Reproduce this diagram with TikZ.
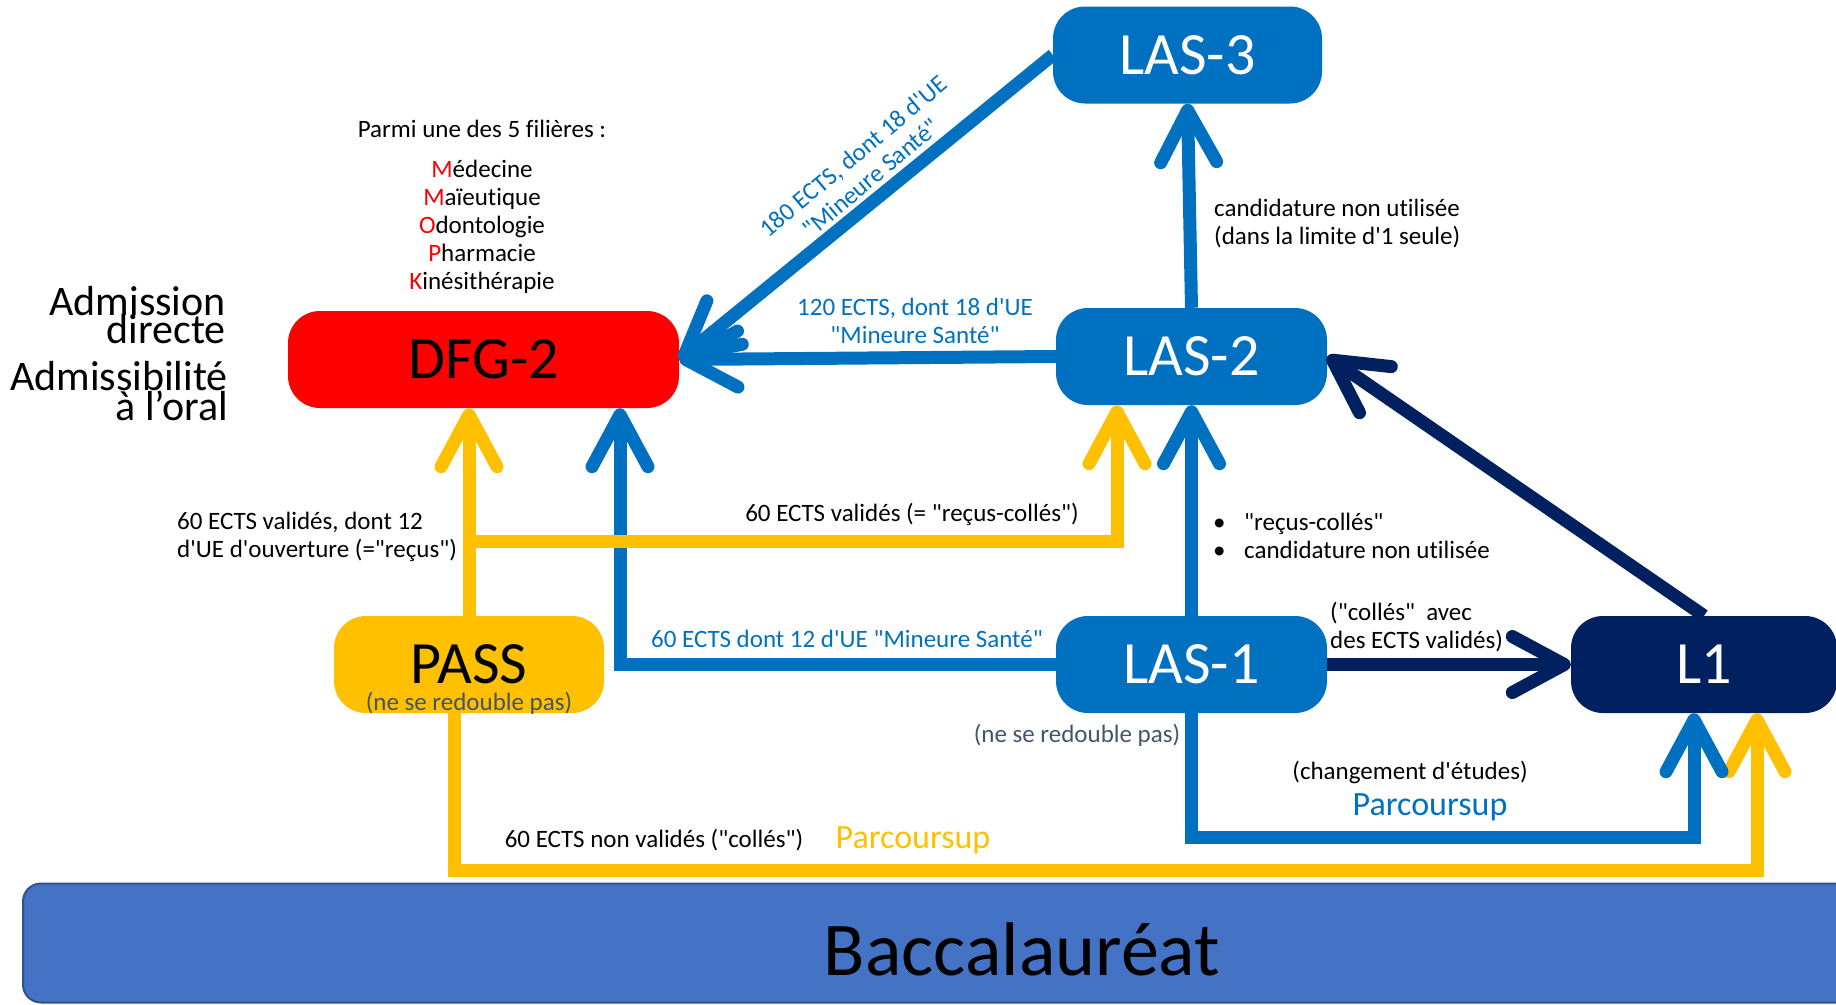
\documentclass[tikz,border=0pt]{standalone}
\usepackage{fontspec}
\setmainfont{Carlito}[Ligatures={TeXOff,NoCommon}]
\usetikzlibrary{arrows.meta}
\definecolor{lasblue}{HTML}{0070C0}
\definecolor{navy}{HTML}{002060}
\definecolor{passy}{HTML}{FFC000}
\definecolor{dfgred}{HTML}{FF0000}
\definecolor{bacfill}{HTML}{4472C4}
\definecolor{bacline}{HTML}{2F528F}
\definecolor{graytxt}{HTML}{44546A}
\begin{document}
\begin{tikzpicture}[x=1pt,y=-1pt,
  box/.style={rounded corners=32pt, inner sep=0pt, minimum height=97pt, font=\fontsize{60}{60}\selectfont},
  lbl/.style={inner sep=0pt, font=\fontsize{25}{28}\selectfont},
  big/.style={inner sep=0pt, font=\fontsize{42}{42}\selectfont},
  pkp/.style={inner sep=0pt, font=\fontsize{34}{34}\selectfont},
  arr/.style={line width=13pt, -{Straight Barb[length=52pt,width=56pt,round]}},
]
\useasboundingbox (0,0) rectangle (1836,1004);
\clip (0,0) rectangle (1836,1004);

% Baccalaureat
\node[draw=bacline, line width=2pt, fill=bacfill, rounded corners=18pt, minimum width=1998pt, minimum height=119pt, inner sep=0pt] (bac) at (1022,943) {};
\node[anchor=base, inner sep=0pt, font=\fontsize{76}{76}\selectfont] (bactext) at (1022,975) {Baccalauréat};

% boxes
\node[box, fill=lasblue, text=white, minimum width=269pt] (las3) at (1187.5,55) {LAS-3};
\node[box, fill=lasblue, text=white, minimum width=271pt] (las2) at (1191.5,356.5) {LAS-2};
\node[box, fill=lasblue, text=white, minimum width=271pt] (las1) at (1191.5,664.5) {LAS-1};
\node[box, fill=navy, text=white, minimum width=266pt] (l1) at (1704,664.5) {L1};
\node[box, fill=dfgred, text=black, minimum width=391pt] (dfg) at (483.5,359.5) {DFG-2};
\node[box, fill=passy, text=black, minimum width=270pt] (pass) at (469,664.5) {PASS};

% connectors
\draw[arr, lasblue] (las3.west) -- (dfg.east);
\draw[arr, lasblue] (las2.west) -- (dfg.east);
\draw[arr, lasblue] (las2.north) -- (las3.south);
\draw[arr, lasblue] (las1.north) -- (las2.south);
\draw[arr, navy] (l1.north) -- (las2.east);
\draw[arr, navy] (las1.east) -- (l1.west);
\draw[arr, lasblue] (las1.west) -| ([xshift=136.5pt]dfg.south);
\draw[arr, passy] (pass.north) -- (dfg.south -| pass.north);
\coordinate (ysplit) at (469,541);
\draw[arr, passy] (ysplit) -| ([xshift=-74.5pt]las2.south);
\coordinate (ybot) at (1000,870);
\draw[arr, passy] ([xshift=-15pt]pass.south) |- (ybot) -| ([xshift=53pt]l1.south);
\coordinate (bbot) at (1400,837);
\draw[arr, lasblue] (las1.south) |- (bbot) -| ([xshift=-10pt]l1.south);

% labels
\node[lbl] (parmi) at (482,129) {Parmi une des 5 filières :};
\node[lbl, align=center] (fil) at (482,227) {\textcolor{dfgred}{M}édecine\\\textcolor{dfgred}{M}aïeutique\\\textcolor{dfgred}{O}dontologie\\\textcolor{dfgred}{P}harmacie\\\textcolor{dfgred}{K}inésithérapie};
\node[big, anchor=base east] (adm1) at (226,315) {Admission};
\node[big, anchor=base east] (adm2) at (226,343) {directe};
\node[big, anchor=base east] (adm3) at (228,390) {Admissibilité};
\node[big, anchor=base east] (adm4) at (228,420) {à l’oral};

\node[lbl, align=left, anchor=west] (cand3) at (1214,224) {candidature non utilisée\\(dans la limite d'1 seule)};
\node[lbl, text=lasblue, align=center] (e120) at (915,321) {120 ECTS, dont 18 d'UE\\"Mineure Santé"};
\node[lbl, text=lasblue, align=center, rotate=40] (e180) at (862,167) {180 ECTS, dont 18 d'UE\\"Mineure Santé"};
\node[lbl, align=left, anchor=west] (bul) at (1213,536) {\makebox[31pt][l]{\textbullet}"reçus-collés"\\\makebox[31pt][l]{\textbullet}candidature non utilisée};
\node[lbl, align=left, anchor=west] (colles) at (1330,627) {("collés"~ avec\\des ECTS validés)};
\node[lbl] (v60r) at (912,514) {60 ECTS validés (= "reçus-collés")};
\node[lbl, align=left, anchor=west] (v60p) at (177,537) {60 ECTS validés, dont 12\\d'UE d'ouverture (="reçus")};
\node[lbl, text=lasblue] (v60m) at (847,639) {60 ECTS dont 12 d'UE "Mineure Santé"};
\node[lbl, text=graytxt] (nr1) at (1077,735) {(ne se redouble pas)};
\node[lbl, text=graytxt] (nr2) at (469,703) {(ne se redouble pas)};
\node[lbl] (chg) at (1410,772) {(changement d'études)};
\node[pkp, text=lasblue] (pc1) at (1430,807) {Parcoursup};
\node[lbl] (nv) at (654,840) {60 ECTS non validés ("collés")};
\node[pkp, text=passy] (pc2) at (913,840) {Parcoursup};
\end{tikzpicture}
\end{document}
